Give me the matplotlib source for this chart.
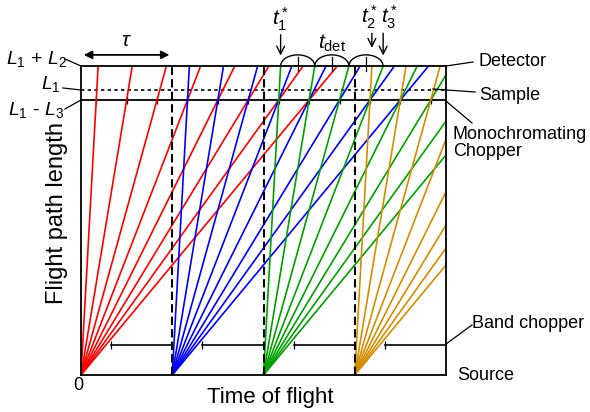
import matplotlib.pyplot as plt
from matplotlib.patches import Arc
from matplotlib.lines import Line2D

plt.rcParams['font.family'] = ['Liberation Sans', 'DejaVu Sans']
plt.rcParams['mathtext.fontset'] = 'custom'
plt.rcParams['mathtext.rm'] = 'Liberation Sans'
plt.rcParams['mathtext.it'] = 'Liberation Sans:italic'

# positions along the flight path (fraction of L1 + L2)
y_band = 0.097
y_mono = 0.89
y_sample = 0.922
y_det = 1.0

# source pulses (in units of tau)
pulse_times = [0, 1, 2, 3]
pulse_colors = ['#ff0000', '#0000ff', '#00a000', '#d48c00']

# times after the pulse at which the rays pass the monochromating chopper
mono_open = [0.167, 0.5, 0.833, 1.167, 1.5, 1.833, 2.167, 2.5]
mono_ticks = [0.167, 0.5, 0.833, 1.167, 1.5, 1.833, 2.167, 2.5, 2.833, 3.167, 3.5, 3.833]

# band chopper closed from band_close to band_end
band_close = [0.33, 1.33, 2.33, 3.33]
band_end = [1, 2, 3, 4]

W, H = 590, 412
fig = plt.figure(figsize=(W / 100, H / 100), dpi=100)
ax = fig.add_axes([81 / W, 1 - 375 / H, 365 / W, 309 / H])
ax.set_xlim(0, 4)
ax.set_ylim(0, 1)
ax.set_xticks([])
ax.set_yticks([])
for s in ax.spines.values():
    s.set_linewidth(1.3)


def fx(x):
    return x / W


def fy(y):
    return 1 - y / H


def fig_line(xs, ys):
    fig.add_artist(Line2D([fx(v) for v in xs], [fy(v) for v in ys], color='black', lw=0.9,
                          transform=fig.transFigure))


# neutron rays
for t0, c in zip(pulse_times, pulse_colors):
    for tc in mono_open:
        ax.plot([t0, t0 + tc / y_mono * y_det], [0, y_det], color=c, lw=1.2, zorder=2)

# pulse lines
for t0 in pulse_times[1:]:
    ax.plot([t0, t0], [0, 1], color='black', lw=1.5, dashes=(4, 2), zorder=3)

# sample
ax.plot([0, 4], [y_sample, y_sample], color='black', lw=1.2, dashes=(2, 2), zorder=1)
# monochromating chopper
ax.plot([0, 4], [y_mono, y_mono], color='black', lw=1.3, zorder=1)
ax.vlines(mono_ticks, y_mono - 0.014, y_mono + 0.014, color='black', lw=0.9, zorder=1)
# band chopper
for a, b in zip(band_close, band_end):
    ax.plot([a, b], [y_band, y_band], color='black', lw=1.2, zorder=1)
ax.vlines(band_close, y_band - 0.012, y_band + 0.012, color='black', lw=0.9, zorder=1)

# t_det arcs on top of the detector
t_first = pulse_times[2] + mono_open[0] / y_mono
t_step = (mono_open[1] - mono_open[0]) / y_mono
for i in range(3):
    a = t_first + i * t_step
    ax.add_patch(Arc((a + t_step / 2, y_det), t_step, 0.072, theta1=0, theta2=180,
                     color='black', lw=1.0, clip_on=False))
    ax.plot([a + t_step / 2] * 2, [y_det - 0.015, y_det + 0.03], color='black', lw=0.9,
            clip_on=False)

t1 = t_first
t2 = pulse_times[3] + mono_open[0] / y_mono
t3 = pulse_times[2] + mono_open[3] / y_mono
for t, ytop, ybot in [(t1, 1.11, 1.025), (t2, 1.115, 1.05), (t3, 1.115, 1.025)]:
    ax.annotate('', xy=(t, ybot), xytext=(t, ytop), annotation_clip=False,
                arrowprops=dict(arrowstyle='->', color='black', lw=1.0, mutation_scale=14))
ax.text(t1, 1.152, '$t^*_1$', ha='center', va='center', fontsize=15)
ax.text(t2 - 0.03, 1.158, '$t^*_2$', ha='center', va='center', fontsize=15)
ax.text(t3 + 0.07, 1.158, '$t^*_3$', ha='center', va='center', fontsize=15)
ax.text(t1 + 1.5 * t_step, 1.073, r'$t_{\rm det}$', ha='center', va='center', fontsize=15)

# tau arrow
ax.annotate('', xy=(0, 1.036), xytext=(1, 1.036), annotation_clip=False,
            arrowprops=dict(arrowstyle='<|-|>', color='black', lw=1.3, mutation_scale=12))
ax.text(0.5, 1.083, r'$\tau$', ha='center', va='center', fontsize=15)

# left labels
fig.text(fx(36), fy(59), '$L_1$ + $L_2$', ha='center', va='center', fontsize=14)
fig_line([65, 81], [59, 66])
fig.text(fx(51), fy(84), '$L_1$', ha='center', va='center', fontsize=14)
fig_line([63, 81], [88, 90])
fig.text(fx(36), fy(110), '$L_1$ - $L_3$', ha='center', va='center', fontsize=14)
fig_line([65, 81], [109, 100])
fig.text(fx(78), fy(385), '0', ha='center', va='center', fontsize=13)

# right labels
fig.text(fx(479), fy(62), 'Detector', ha='left', va='center', fontsize=13)
fig_line([446, 473], [66, 62])
fig.text(fx(479), fy(95), 'Sample', ha='left', va='center', fontsize=13)
fig_line([433, 475], [89, 92])
fig.text(fx(453), fy(143), 'Monochromating\nChopper', ha='left', va='center', fontsize=13,
         linespacing=0.95)
fig_line([446, 472], [101, 123])
fig.text(fx(472), fy(324), 'Band chopper', ha='left', va='center', fontsize=13)
fig_line([446, 472], [344, 325])
fig.text(fx(457), fy(375), 'Source', ha='left', va='center', fontsize=13)

# axis labels
fig.text(fx(270), fy(397), 'Time of flight', ha='center', va='center', fontsize=16)
fig.text(fx(57), fy(213), 'Flight path length', ha='center', va='center', fontsize=17,
         rotation=90)

fig.savefig('out.png', dpi=100)
